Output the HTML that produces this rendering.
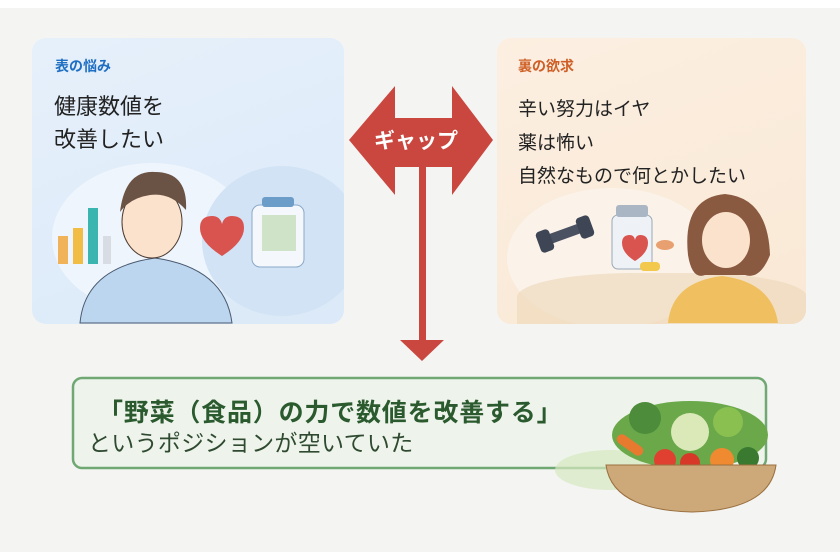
<!DOCTYPE html>
<html><head><meta charset="utf-8"><style>
body{margin:0;width:840px;height:560px;background:#fff;overflow:hidden;font-family:"Liberation Sans","Noto Sans CJK JP",sans-serif;position:relative}
.bg{position:absolute;left:0;top:8px;width:840px;height:544px;background:#f4f4f3}
.card{position:absolute;border-radius:14px;overflow:hidden}
.t{position:absolute;white-space:nowrap}
</style></head><body>
<div class="bg"></div>
<div class="card" style="left:32px;top:38px;width:312px;height:286px;background:linear-gradient(160deg,#e6f0fb,#dbe9f8)">
 <div style="position:absolute;left:20px;top:125px;width:200px;height:150px;border-radius:50%;background:#eef5fd"></div>
 <div style="position:absolute;left:170px;top:128px;width:160px;height:150px;border-radius:50%;background:#d2e3f5"></div>
</div>
<svg style="position:absolute;left:0;top:0" width="840" height="560">
 <rect x="58" y="236" width="10" height="28" fill="#f0b35a"/><rect x="73" y="228" width="10" height="36" fill="#f2bd44"/><rect x="88" y="208" width="10" height="56" fill="#3bb5b0"/><rect x="103" y="236" width="8" height="28" fill="#d8dde3"/>
 <path d="M80 323 Q85 268 155 258 Q225 268 232 323Z" fill="#bcd6f0" stroke="#4a5a70"/>
 <ellipse cx="152" cy="222" rx="30" ry="36" fill="#fbe2cc" stroke="#4a3a30"/>
 <path d="M120 212 Q125 170 155 172 Q188 172 186 210 Q170 192 150 195 Q130 198 120 212Z" fill="#6a5244"/>
 <path d="M200 228 q0-12 12-12 q8 0 10 8 q2-8 10-8 q12 0 12 12 q0 14-22 28 q-22-14-22-28z" fill="#d9534f"/>
 <rect x="252" y="205" width="52" height="62" rx="8" fill="#f4f8fc" stroke="#8aa8c8"/><rect x="262" y="197" width="32" height="10" rx="3" fill="#6c9cc8"/>
 <rect x="262" y="215" width="34" height="36" fill="#cfe3c8"/>
</svg>
<div class="card" style="left:497px;top:38px;width:309px;height:286px;background:linear-gradient(160deg,#fcefe1,#f9e8d5)">
 <div style="position:absolute;left:10px;top:150px;width:210px;height:140px;border-radius:50%;background:#fbf3ea"></div>
 <div style="position:absolute;left:20px;top:235px;width:290px;height:60px;background:#ecd7b8;opacity:.6;border-radius:40% 40% 0 0"></div>
</div>
<svg style="position:absolute;left:0;top:0" width="840" height="560">
 <rect x="545" y="229" width="38" height="10" rx="3" fill="#4a5262" transform="rotate(-20 564 234)"/>
 <rect x="538" y="230" width="14" height="22" rx="4" fill="#3e4656" transform="rotate(-20 545 241)"/>
 <rect x="578" y="216" width="14" height="22" rx="4" fill="#3e4656" transform="rotate(-20 585 227)"/>
 <rect x="612" y="215" width="40" height="54" rx="6" fill="#eef2f6" stroke="#9aa8b8"/><rect x="616" y="205" width="32" height="12" rx="3" fill="#aab6c4"/>
 <path d="M622 243 q0-8 8-8 q4 0 5 5 q1-5 5-5 q8 0 8 8 q0 10-13 18 q-13-8-13-18z" fill="#d9534f"/>
 <ellipse cx="665" cy="245" rx="9" ry="5" fill="#e8a070"/><rect x="640" y="262" width="20" height="9" rx="4" fill="#f2c94c"/>
 <path d="M668 323 Q672 282 722 276 Q772 282 778 323Z" fill="#f0c060"/>
 <path d="M688 255 Q682 198 725 194 Q768 198 770 255 Q760 280 745 275 L705 275 Q692 280 688 255Z" fill="#8a5a40"/>
 <ellipse cx="726" cy="240" rx="24" ry="28" fill="#fbe2cc"/>
 <polygon points="349,140 395,86 395,118 452,118 452,86 493,140 452,195 452,167 395,167 395,195" fill="#c9473f"/>
 <rect x="419" y="160" width="7" height="182" fill="#c9473f"/>
 <polygon points="400,340 444,340 422,361" fill="#c9473f"/>
 <rect x="73" y="378" width="693" height="90" rx="9" fill="#eef4ec" stroke="#6fa872" stroke-width="2.5"/>
 <ellipse cx="610" cy="470" rx="55" ry="20" fill="#d5e8c0" opacity=".7"/>
 <ellipse cx="690" cy="435" rx="78" ry="34" fill="#6aa84a"/>
 <circle cx="645" cy="418" r="16" fill="#4c8c3a"/><circle cx="690" cy="432" r="19" fill="#dbe9b8"/><circle cx="728" cy="422" r="15" fill="#8ac050"/>
 <rect x="615" y="440" width="30" height="10" rx="5" fill="#e87a30" transform="rotate(35 630 445)"/>
 <circle cx="665" cy="460" r="11" fill="#e04030"/><circle cx="690" cy="463" r="10" fill="#d83828"/><circle cx="722" cy="460" r="12" fill="#f08a30"/><circle cx="748" cy="458" r="11" fill="#3a7a30"/>
 <path d="M606 465 L776 465 Q770 510 692 512 Q612 510 606 465Z" fill="#cda878" stroke="#9a7040"/>
</svg>
<div class="t" style="left:55px;top:56px;font-size:14px;font-weight:bold;color:#1e6fc2">表の悩み</div>
<div class="t" style="left:54px;top:90px;font-size:22px;line-height:33px;color:#222">健康数値を<br>改善したい</div>
<div class="t" style="left:518px;top:56px;font-size:14px;font-weight:bold;color:#cf5f26">裏の欲求</div>
<div class="t" style="left:518px;top:93px;font-size:19px;line-height:33.5px;color:#222">辛い努力はイヤ<br>薬は怖い<br>自然なもので何とかしたい</div>
<div class="t" style="left:374px;top:125px;font-size:21px;font-weight:bold;color:#fff">ギャップ</div>
<div class="t" style="left:98px;top:393px;font-size:25px;font-weight:bold;color:#2a5a2e;letter-spacing:0.8px">「野菜（食品）の力で数値を改善する」</div>
<div class="t" style="left:88px;top:424px;font-size:23px;color:#2f4a30;letter-spacing:0.3px">というポジションが空いていた</div>
</body></html>
